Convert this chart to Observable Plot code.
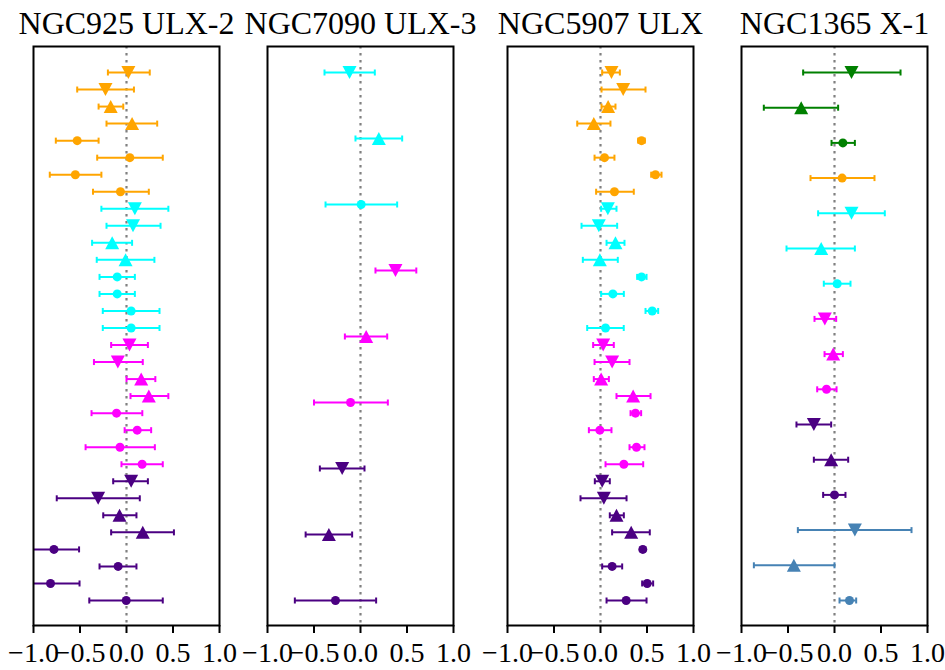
<!DOCTYPE html>
<html>
<head>
<meta charset="utf-8">
<script src="https://cdn.jsdelivr.net/npm/d3@7"></script>
<script src="https://cdn.jsdelivr.net/npm/@observablehq/plot@0.6"></script>
<style>
  html, body { margin: 0; padding: 0; background: #fff; }
  #chart { position: relative; width: 945px; height: 670px; overflow: hidden; background: #fff; }
  #chart svg { position: absolute; top: 0; overflow: visible; }
</style>
</head>
<body>
<div id="chart"></div>
<script>
// ---------- data ----------
const titles = ["NGC925 ULX-2", "NGC7090 ULX-3", "NGC5907 ULX", "NGC1365 X-1"];
const xTicks = [-1, -0.5, 0, 0.5, 1];
const groupNames = ["orange", "cyan", "magenta", "indigo", "green", "steelblue"];
const groupColors = ["#ffa500", "#00ffff", "#ff00ff", "#4b0082", "#008000", "#4682b4"];

// Panel 1: NGC925 ULX-2
const p1Group = ["orange","orange","orange","orange","orange","orange","orange","orange",
  "cyan","cyan","cyan","cyan","cyan","cyan","cyan","cyan",
  "magenta","magenta","magenta","magenta","magenta","magenta","magenta","magenta",
  "indigo","indigo","indigo","indigo","indigo","indigo","indigo","indigo"];
const p1Marker = ["down","down","up","up","circle","circle","circle","circle",
  "down","down","up","up","circle","circle","circle","circle",
  "down","down","up","up","circle","circle","circle","circle",
  "down","down","up","up","circle","circle","circle","circle"];
const p1Val = [0.02,-0.226,-0.17,0.06,-0.53,0.036,-0.55,-0.065,
  0.09,0.07,-0.154,-0.01,-0.10,-0.10,0.05,0.05,
  0.032,-0.093,0.158,0.24,-0.107,0.115,-0.07,0.168,
  0.05,-0.305,-0.075,0.175,-0.78,-0.09,-0.817,-0.003];
const p1Lo = [-0.20,-0.53,-0.30,-0.215,-0.76,-0.315,-0.825,-0.36,
  -0.27,-0.215,-0.37,-0.32,-0.29,-0.29,-0.255,-0.255,
  -0.165,-0.35,0.0,0.043,-0.376,-0.02,-0.44,-0.054,
  -0.143,-0.75,-0.25,-0.165,-1.10,-0.29,-1.10,-0.40];
const p1Hi = [0.25,0.08,-0.035,0.33,-0.30,0.39,-0.27,0.24,
  0.45,0.366,0.06,0.30,0.09,0.09,0.355,0.355,
  0.23,0.175,0.31,0.45,0.17,0.265,0.305,0.39,
  0.23,0.143,0.107,0.51,-0.51,0.107,-0.505,0.39];

// Panel 2: NGC7090 ULX-3
const p2Group = ["cyan","cyan","cyan","magenta","magenta","magenta","indigo","indigo","indigo"];
const p2Marker = ["down","up","circle","down","up","circle","down","up","circle"];
const p2Val = [-0.118,0.197,0.007,0.376,0.061,-0.107,-0.197,-0.34,-0.269];
const p2Lo = [-0.387,-0.054,-0.376,0.161,-0.168,-0.50,-0.437,-0.59,-0.706];
const p2Hi = [0.154,0.448,0.394,0.60,0.287,0.294,0.043,-0.09,0.168];

// Panel 3: NGC5907 ULX
const p3Group = p1Group;
const p3Marker = p1Marker;
const p3Val = [0.118,0.244,0.082,-0.072,0.441,0.043,0.591,0.15,
  0.079,-0.018,0.161,-0.007,0.441,0.133,0.556,0.054,
  0.029,0.125,0.007,0.351,0.376,-0.007,0.387,0.251,
  0.018,0.036,0.172,0.33,0.455,0.125,0.502,0.276];
const p3Lo = [0.018,0.011,0.011,-0.25,0.405,-0.064,0.545,-0.047,
  0.007,-0.204,0.065,-0.19,0.394,0.007,0.484,-0.143,
  -0.079,-0.064,-0.072,0.172,0.323,-0.125,0.312,0.054,
  -0.061,-0.215,0.10,0.125,0.43,0.018,0.448,0.065];
const p3Hi = [0.208,0.484,0.161,0.107,0.476,0.15,0.656,0.358,
  0.172,0.179,0.258,0.186,0.495,0.251,0.62,0.25,
  0.143,0.312,0.09,0.538,0.437,0.118,0.473,0.459,
  0.10,0.28,0.251,0.53,0.48,0.233,0.566,0.495];

// Panel 4: NGC1365 X-1
const p4Group = ["green","green","green","orange","cyan","cyan","cyan",
  "magenta","magenta","magenta","indigo","indigo","indigo","steelblue","steelblue","steelblue"];
const p4Marker = ["down","up","circle","circle","down","up","circle",
  "down","up","circle","down","up","circle","down","up","circle"];
const p4Val = [0.183,-0.358,0.09,0.082,0.183,-0.143,0.029,-0.104,-0.014,-0.086,-0.222,-0.036,0.0,0.219,-0.437,0.161];
const p4Lo = [-0.337,-0.76,-0.032,-0.258,-0.176,-0.516,-0.115,-0.215,-0.107,-0.186,-0.409,-0.222,-0.122,-0.394,-0.867,0.054];
const p4Hi = [0.71,0.039,0.219,0.43,0.541,0.219,0.172,0.018,0.09,0.022,-0.036,0.147,0.118,0.828,0.0,0.233];

// ---------- drawing ----------
const panels = [
  {title: titles[0], g: p1Group, m: p1Marker, v: p1Val, lo: p1Lo, hi: p1Hi},
  {title: titles[1], g: p2Group, m: p2Marker, v: p2Val, lo: p2Lo, hi: p2Hi},
  {title: titles[2], g: p3Group, m: p3Marker, v: p3Val, lo: p3Lo, hi: p3Hi},
  {title: titles[3], g: p4Group, m: p4Marker, v: p4Val, lo: p4Lo, hi: p4Hi}
];
const panelLeft = [3.3, 236.7, 476.7, 710.7];

const triDown = {draw(ctx) { ctx.moveTo(-7, -6.5); ctx.lineTo(7, -6.5); ctx.lineTo(0, 6.5); ctx.closePath(); }};
const triUp = {draw(ctx) { ctx.moveTo(-7, 6.5); ctx.lineTo(7, 6.5); ctx.lineTo(0, -6.5); ctx.closePath(); }};
const capSym = {draw(ctx) { ctx.moveTo(0, -3); ctx.lineTo(0, 3); }};

const chart = document.getElementById("chart");

panels.forEach((p, k) => {
  const rows = p.v.map((v, i) => ({i, v, lo: p.lo[i], hi: p.hi[i], g: p.g[i], m: p.m[i]}));
  const n = rows.length;
  const svg = Plot.plot({
    width: 234,
    height: 670,
    marginLeft: 30,
    marginRight: 18,
    marginTop: 46,
    marginBottom: 45,
    style: {fontFamily: "'Liberation Serif', 'Times New Roman', serif", fontSize: "28px", background: "transparent", color: "black"},
    x: {domain: [-1, 1]},
    y: {domain: [0, n - 1], range: [72, 600], axis: null},
    color: {domain: groupNames, range: groupColors},
    marks: [
      Plot.ruleX([0], {stroke: "#808080", strokeWidth: 2.2, strokeDasharray: "2.6,4.4"}),
      Plot.ruleY(rows, {y: "i", x1: "lo", x2: "hi", stroke: "g", strokeWidth: 2, clip: true}),
      Plot.dot(rows, {x: "lo", y: "i", symbol: capSym, stroke: "g", strokeWidth: 2, fill: null, clip: true}),
      Plot.dot(rows, {x: "hi", y: "i", symbol: capSym, stroke: "g", strokeWidth: 2, fill: null, clip: true}),
      Plot.dot(rows.filter(d => d.m === "circle"), {x: "v", y: "i", r: 4.5, fill: "g", stroke: null}),
      Plot.dot(rows.filter(d => d.m === "down"), {x: "v", y: "i", symbol: triDown, fill: "g", stroke: null}),
      Plot.dot(rows.filter(d => d.m === "up"), {x: "v", y: "i", symbol: triUp, fill: "g", stroke: null}),
      Plot.frame({stroke: "black", strokeWidth: 2}),
      Plot.axisX({ticks: xTicks, tickFormat: d3.format(".1f"), tickSize: 8, tickPadding: 9, strokeWidth: 2, fontSize: 28, label: null}),
      Plot.text([p.title], {frameAnchor: "top", dy: -13, lineAnchor: "bottom", fontSize: 32, text: d => d, fill: "black"})
    ]
  });
  svg.style.left = panelLeft[k] + "px";
  chart.appendChild(svg);
});
</script>
</body>
</html>
